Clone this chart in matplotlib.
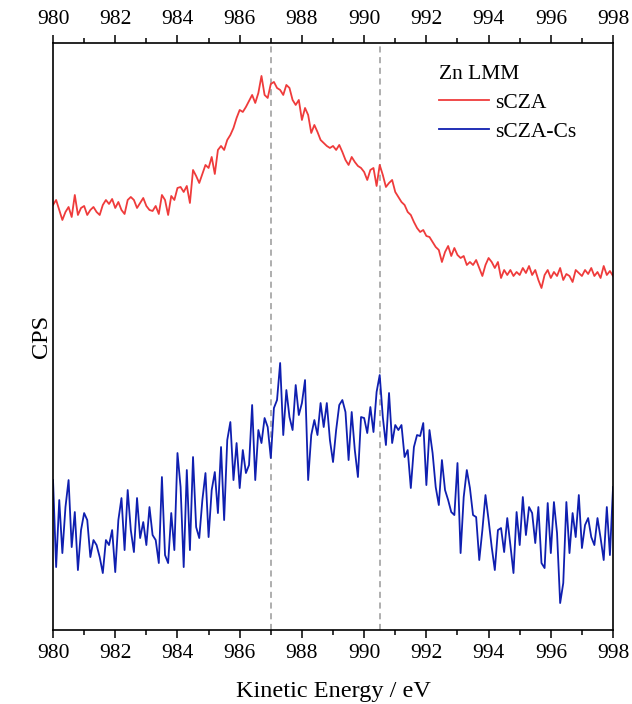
import matplotlib
matplotlib.use("Agg")
import matplotlib.pyplot as plt
import numpy as np
from matplotlib.ticker import MultipleLocator

plt.rcParams["font.family"] = ["Liberation Serif", "DejaVu Serif"]

# Kinetic energy grid (eV), 0.1 eV steps
energy = np.round(np.arange(980.0, 998.05, 0.1), 1)

# Zn LMM counts, arbitrary CPS scale
cps_sCZA = [
    425, 430, 420, 410, 418, 423, 413, 435, 415, 422,
    424, 415, 420, 423, 418, 415, 425, 430, 426, 431,
    422, 428, 420, 416, 430, 433, 430, 422, 427, 432,
    424, 420, 419, 424, 416, 435, 430, 415, 434, 430,
    442, 443, 438, 444, 427, 460, 454, 447, 456, 465,
    462, 473, 456, 480, 484, 480, 490, 495, 502, 512,
    520, 518, 523, 529, 535, 527, 537, 554, 535, 532,
    546, 548, 542, 540, 535, 545, 542, 530, 525, 530,
    510, 522, 515, 497, 505, 498, 490, 487, 484, 482,
    484, 480, 485, 478, 470, 465, 473, 468, 464, 462,
    458, 450, 460, 462, 444, 465, 455, 443, 447, 450,
    438, 433, 428, 425, 418, 415, 408, 402, 398, 400,
    394, 393, 388, 383, 380, 368, 378, 384, 374, 382,
    375, 372, 374, 365, 368, 365, 370, 362, 354, 365,
    372, 368, 362, 368, 352, 360, 355, 360, 354, 358,
    355, 362, 357, 364, 355, 360, 350, 342, 355, 360,
    352, 358, 354, 362, 350, 356, 354, 348, 360, 357,
    354, 360, 356, 362, 354, 358, 352, 364, 355, 359,
    354,
]

cps_sCZA_Cs = [
    150, 63, 130, 77, 123, 150, 83, 118, 60, 100,
    117, 110, 73, 90, 85, 73, 57, 90, 85, 100,
    58, 110, 132, 80, 140, 100, 78, 132, 92, 108,
    85, 123, 95, 90, 67, 153, 75, 67, 117, 80,
    177, 143, 63, 160, 80, 173, 103, 92, 130, 157,
    93, 140, 158, 117, 183, 110, 190, 208, 150, 187,
    142, 180, 157, 165, 225, 150, 200, 187, 212, 203,
    172, 222, 230, 267, 195, 240, 213, 200, 245, 215,
    227, 250, 150, 195, 210, 195, 227, 203, 227, 190,
    168, 200, 225, 230, 218, 170, 218, 180, 153, 213,
    212, 197, 223, 198, 238, 255, 213, 185, 237, 187,
    205, 200, 205, 173, 180, 142, 183, 195, 194, 207,
    145, 200, 177, 143, 125, 170, 140, 130, 118, 115,
    167, 77, 133, 160, 142, 115, 113, 70, 100, 135,
    110, 83, 60, 100, 102, 78, 112, 85, 57, 118,
    85, 133, 95, 123, 117, 87, 123, 67, 62, 127,
    77, 128, 97, 27, 47, 128, 77, 117, 93, 135,
    82, 105, 112, 93, 85, 112, 92, 70, 123, 75,
    143,
]

# Peak positions marked with guide lines
peak_lines = [987.0, 990.5]

fig = plt.figure(figsize=(6.32, 7.04), dpi=100)
ax = fig.add_axes([0.0839, 0.105, 0.8861, 0.834])

ax.plot(energy, cps_sCZA, color="#ef3b3b", lw=1.3, label="sCZA")
ax.plot(energy, cps_sCZA_Cs, color="#0f1fb0", lw=1.3, label="sCZA-Cs")
for xv in peak_lines:
    ax.axvline(xv, color="#999999", ls=(0, (4, 3)), lw=1.1, zorder=0)

ax.set_xlim(980, 998)
ax.set_ylim(0, 587)
ax.xaxis.set_major_locator(MultipleLocator(2))
ax.xaxis.set_minor_locator(MultipleLocator(1))
ax.tick_params(axis="x", which="both", direction="out", top=True, bottom=True,
               labeltop=True, labelbottom=True, labelsize=15.5, width=1.1, pad=4)
ax.tick_params(axis="x", which="major", length=6)
ax.tick_params(axis="x", which="minor", length=3.5)
ax.tick_params(axis="y", left=False, right=False, labelleft=False)
for sp in ax.spines.values():
    sp.set_linewidth(1.2)

ax.set_xlabel("Kinetic Energy / eV", fontsize=17.5, labelpad=13)
ax.set_ylabel("CPS", fontsize=17.5, labelpad=1)

leg = ax.legend(title="Zn LMM", loc="upper left", bbox_to_anchor=(0.655, 0.995),
                frameon=False, fontsize=15.5, title_fontsize=15.5,
                handlelength=2.3, handletextpad=0.3, labelspacing=0.4)
leg._legend_box.align = "left"

fig.savefig("out.png", dpi=100)
plt.close(fig)
